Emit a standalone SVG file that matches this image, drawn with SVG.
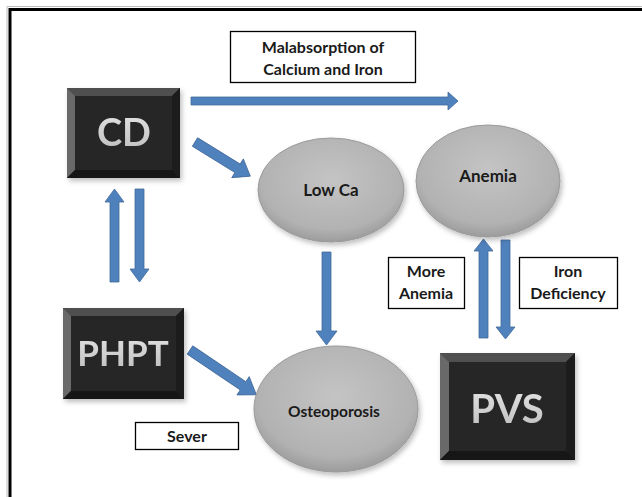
<svg xmlns="http://www.w3.org/2000/svg" width="642" height="497" viewBox="0 0 642 497">
<defs>
<radialGradient id="eg" cx="50%" cy="40%" r="60%">
<stop offset="0" stop-color="#c4c4c4"/>
<stop offset="0.8" stop-color="#b2b2b2"/>
<stop offset="1" stop-color="#9c9c9c"/>
</radialGradient>
<linearGradient id="tg" x1="0" y1="0" x2="0" y2="1">
<stop offset="0" stop-color="#e6e6e6"/>
<stop offset="1" stop-color="#bdbdbd"/>
</linearGradient>
<filter id="sh" x="-20%" y="-20%" width="140%" height="140%">
<feDropShadow dx="2" dy="3" stdDeviation="2.5" flood-color="#000" flood-opacity="0.25"/>
</filter>
</defs>
<style>
.lbl{fill:#fff;stroke:#000;stroke-width:1.3}
.t{font-family:Lato,"Liberation Sans",sans-serif;font-weight:bold;fill:#1a1a1a;text-anchor:middle}
.big{font-family:Lato,"Liberation Sans",sans-serif;font-weight:bold;fill:url(#tg);text-anchor:middle}
.ell{fill:url(#eg);stroke:#9a9a9a;stroke-width:1;filter:url(#sh)}
.arr{fill:#4f81bd;stroke:#41699a;stroke-width:0.8}
.face{fill:#282828}
.bt{fill:#505050}
.bl{fill:#696969}
.br{fill:#1c1c1c}
.bb{fill:#121212}
</style>
<rect width="642" height="497" fill="#fff"/>
<path d="M10 497 V9.5 H642" fill="none" stroke="#000" stroke-width="3"/>
<path d="M7 497 V6.5 H642" fill="none" stroke="#bbb" stroke-width="1"/>

<g id="connectors">
<polygon class="arr" points="191,97 448,97 448,92 458,101 448,110 448,105 191,105"/>
<polygon class="arr" transform="translate(195,142) rotate(31.7)" points="0,-5 50,-5 50,-11 65,0 50,11 50,5 0,5"/>
<polygon class="arr" points="110,282 110,202 105,202 114.5,189 124,202 119,202 119,282"/>
<polygon class="arr" points="135,189 144,189 144,269 149,269 139.5,282 130,269 135,269"/>
<polygon class="arr" points="322,252 331,252 331,331 337,331 326.5,345 316,331 322,331"/>
<polygon class="arr" transform="translate(190,350) rotate(34)" points="0,-5 64,-5 64,-11 80,0 64,11 64,5 0,5"/>
<polygon class="arr" points="479,338 479,251 474,251 483.5,239 493,251 488,251 488,338"/>
<polygon class="arr" points="501,240 510,240 510,327 515,327 505.5,339 496,327 501,327"/>
</g>

<g id="malabsorption">
<rect class="lbl" x="230.5" y="31.5" width="185" height="51"/>
<text class="t" x="323" y="53" font-size="16">Malabsorption of</text>
<text class="t" x="323" y="75" font-size="16">Calcium and Iron</text>
</g>

<g id="cd" filter="url(#sh)">
<rect class="face" x="67" y="88" width="113" height="90"/>
<polygon class="bt" points="67,88 180,88 172,96 75,96"/>
<polygon class="bl" points="67,88 75,96 75,170 67,178"/>
<polygon class="br" points="180,88 180,178 172,170 172,96"/>
<polygon class="bb" points="67,178 75,170 172,170 180,178"/>
<text class="big" x="124" y="146" font-size="38">CD</text>
</g>

<g id="phpt" filter="url(#sh)">
<rect class="face" x="63" y="308" width="121" height="91"/>
<polygon class="bt" points="63,308 184,308 176,316 71,316"/>
<polygon class="bl" points="63,308 71,316 71,391 63,399"/>
<polygon class="br" points="184,308 184,399 176,391 176,316"/>
<polygon class="bb" points="63,399 71,391 176,391 184,399"/>
<text class="big" x="123" y="366" font-size="35">PHPT</text>
</g>

<g id="pvs" filter="url(#sh)">
<rect class="face" x="440" y="353" width="135" height="107"/>
<polygon class="bt" points="440,353 575,353 566,362 449,362"/>
<polygon class="bl" points="440,353 449,362 449,451 440,460"/>
<polygon class="br" points="575,353 575,460 566,451 566,362"/>
<polygon class="bb" points="440,460 449,451 566,451 575,460"/>
<text class="big" x="507" y="423" font-size="40">PVS</text>
</g>

<g id="lowca">
<ellipse class="ell" cx="331" cy="190" rx="73" ry="52"/>
<text class="t" x="331" y="196" font-size="17">Low Ca</text>
</g>

<g id="anemia">
<ellipse class="ell" cx="488" cy="181" rx="72" ry="56"/>
<text class="t" x="488" y="182" font-size="17">Anemia</text>
</g>

<g id="osteoporosis">
<ellipse class="ell" cx="336" cy="409" rx="82" ry="63"/>
<text class="t" x="334" y="417" font-size="15.5">Osteoporosis</text>
</g>

<g id="sever">
<rect class="lbl" x="135.5" y="422.5" width="103" height="27"/>
<text class="t" x="187" y="442" font-size="16">Sever</text>
</g>

<g id="more-anemia">
<rect class="lbl" x="388.5" y="257.5" width="76" height="51"/>
<text class="t" x="426" y="277" font-size="16">More</text>
<text class="t" x="426" y="299" font-size="16">Anemia</text>
</g>

<g id="iron-deficiency">
<rect class="lbl" x="519.5" y="257.5" width="98" height="51"/>
<text class="t" x="568" y="277" font-size="16">Iron</text>
<text class="t" x="568" y="299" font-size="16">Deficiency</text>
</g>
</svg>
